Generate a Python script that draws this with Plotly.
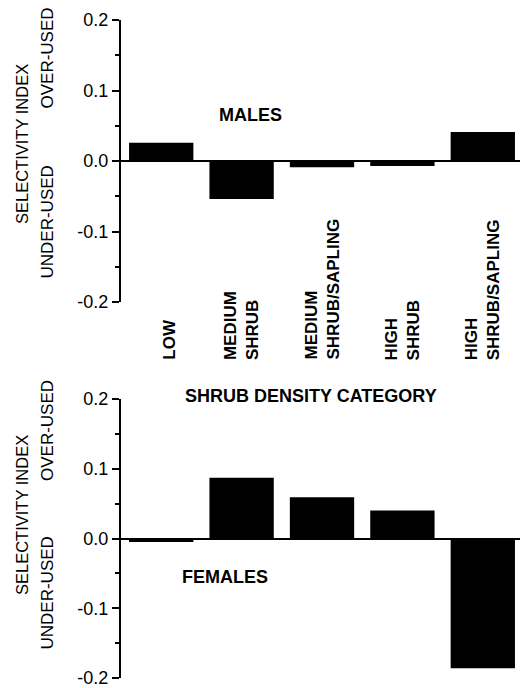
import plotly.graph_objects as go
from plotly.subplots import make_subplots

categories = ["LOW", "MEDIUM SHRUB", "MEDIUM SHRUB/SAPLING", "HIGH SHRUB", "HIGH SHRUB/SAPLING"]
cat_labels = ["LOW", "MEDIUM<br>SHRUB", "MEDIUM<br>SHRUB/SAPLING", "HIGH<br>SHRUB", "HIGH<br>SHRUB/SAPLING"]
males = [0.026, -0.054, -0.009, -0.007, 0.041]
females = [-0.005, 0.087, 0.059, 0.040, -0.186]
y_ticks = [-0.2, -0.1, 0.0, 0.1, 0.2]
y_ticktext = ["-0.2", "-0.1", "0.0", "0.1", "0.2"]

# page has an 8px body margin; figure is sized to fill the rest of the window
OFF = 8
W, H = 520, 680
def py(p):
    return 1 - (p - OFF) / H
def px(p):
    return (p - OFF) / W

FONT = "Liberation Sans, Arial, sans-serif"

fig = make_subplots(rows=2, cols=1)
fig.add_trace(go.Bar(x=categories, y=males, marker=dict(color="black", line=dict(width=0)), width=0.8), row=1, col=1)
fig.add_trace(go.Bar(x=categories, y=females, marker=dict(color="black", line=dict(width=0)), width=0.8), row=2, col=1)

xdom = [px(121), px(523)]
for ax in ("xaxis", "xaxis2"):
    fig.layout[ax].update(domain=xdom, range=[-0.5, 4.5], showticklabels=False, showline=False,
                          showgrid=False, zeroline=False, ticks="", automargin=False)

yaxis_common = dict(range=[-0.2, 0.2], tickvals=y_ticks, ticktext=y_ticktext, ticks="outside",
                    ticklen=7, tickwidth=2, tickcolor="black", showline=True, linecolor="black",
                    linewidth=2, showgrid=False, zeroline=True, zerolinecolor="black", zerolinewidth=2,
                    automargin=False, ticklabeloverflow="allow",
                    tickfont=dict(family=FONT, size=18, color="black"),
                    minor=dict(tickvals=[-0.15, -0.05, 0.05, 0.15], ticks="outside", ticklen=4,
                               tickwidth=2, tickcolor="black"))
fig.layout.yaxis.update(domain=[py(302), py(20)], **yaxis_common)
fig.layout.yaxis2.update(domain=[py(678), py(399)], **yaxis_common)

ann = []
# category labels between panels
for c, lab in zip(categories, cat_labels):
    ann.append(dict(x=c, xref="x", y=py(362), yref="paper", text=lab, textangle=-90,
                    xanchor="center", yanchor="bottom", align="left", showarrow=False,
                    xshift=8 if "<br>" not in lab else 0,
                    font=dict(family=FONT, size=17, color="black", weight="bold")))

def txt(x, y, t, size=18, bold=False, angle=0):
    ann.append(dict(x=px(x), y=py(y), xref="paper", yref="paper", text=t, textangle=angle,
                    xanchor="center", yanchor="middle", showarrow=False,
                    font=dict(family=FONT, size=size, color="black",
                              weight="bold" if bold else "normal")))

txt(250, 115, "MALES", bold=True)
txt(311, 396, "SHRUB DENSITY CATEGORY", bold=True)
txt(225, 577, "FEMALES", bold=True)

# y titles, top panel
txt(22, 144, "SELECTIVITY INDEX", size=16.5, angle=-90)
txt(47, 58.5, "OVER-USED", size=17, angle=-90)
txt(47, 222.5, "UNDER-USED", size=17, angle=-90)
# y titles, bottom panel
txt(22, 515, "SELECTIVITY INDEX", size=16.5, angle=-90)
txt(47, 431, "OVER-USED", size=17, angle=-90)
txt(47, 593.5, "UNDER-USED", size=17, angle=-90)

fig.update_layout(width=W, height=H, margin=dict(l=0, r=0, t=0, b=0), showlegend=False,
                  plot_bgcolor="white", paper_bgcolor="white", annotations=ann, bargap=0.2)
fig.write_html("out.html")
